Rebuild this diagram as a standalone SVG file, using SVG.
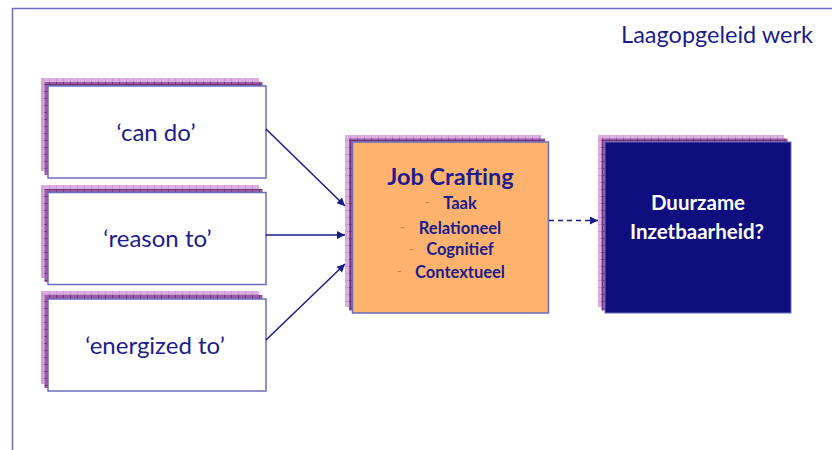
<svg xmlns="http://www.w3.org/2000/svg" width="832" height="450" viewBox="0 0 832 450">
<defs>
<pattern id="pl" width="7" height="7" patternUnits="userSpaceOnUse">
<rect width="7" height="7" fill="#dcaee2"/>
<path d="M0 0.5H7M0.5 0V7" stroke="#cb98d2" stroke-width="1"/>
</pattern>
<pattern id="pd" width="7" height="7" patternUnits="userSpaceOnUse">
<rect width="7" height="7" fill="#9a5aa6"/>
<path d="M0 0.5H7M0.5 0V7" stroke="#74357f" stroke-width="1"/>
</pattern>
<marker id="ah" viewBox="0 0 10 10" refX="10" refY="5" markerWidth="10" markerHeight="8" markerUnits="userSpaceOnUse" orient="auto">
<path d="M0 0L10 5L0 10z" fill="#1a1a85"/>
</marker>
</defs>
<style>
.sl{fill:url(#pl)}
.sd{fill:url(#pd)}
.wb{fill:#ffffff;stroke:#6d6dbd;stroke-width:1.5}
.lbl{font-family:Lato,"Liberation Sans",sans-serif;font-size:24px;fill:#1c1c8c;text-anchor:middle}
.jc{font-family:Lato,"Liberation Sans",sans-serif;font-weight:bold;fill:#1c1c8c;text-anchor:middle}
.sub{font-size:16.5px}
.wt{fill:#ffffff;font-size:20.5px}
.dash{font-family:Lato,"Liberation Sans",sans-serif;font-size:13px;fill:#f2663a}
.conn{stroke:#1a1a85;stroke-width:1.5;fill:none}
</style>
<rect width="832" height="450" fill="#ffffff"/>
<path d="M12.5 450V8.5H832" fill="none" stroke="#6d6dbd" stroke-width="1.5"/>
<text x="813" y="43" font-family="Lato,'Liberation Sans',sans-serif" font-size="23.5" fill="#1c1c8c" text-anchor="end">Laagopgeleid werk</text>

<g id="node-can-do">
<rect class="sl" x="41" y="78" width="218" height="93"/>
<rect class="sd" x="44.5" y="82" width="218" height="93"/>
<rect class="wb" x="48" y="86" width="218" height="92"/>
<text class="lbl" x="156" y="140.5">‘can do’</text>
</g>
<g id="node-reason-to">
<rect class="sl" x="41" y="185" width="218" height="93"/>
<rect class="sd" x="44.5" y="189" width="218" height="93"/>
<rect class="wb" x="48" y="192.5" width="218" height="92"/>
<text class="lbl" x="157.5" y="247">‘reason to’</text>
</g>
<g id="node-energized-to">
<rect class="sl" x="41" y="291" width="218" height="93"/>
<rect class="sd" x="44.5" y="295" width="218" height="93"/>
<rect class="wb" x="48" y="299" width="218" height="92"/>
<text class="lbl" x="155" y="353.5">‘energized to’</text>
</g>

<g id="node-job-crafting">
<rect class="sl" x="345" y="135" width="196" height="172"/>
<rect class="sd" x="349" y="138.5" width="196" height="172"/>
<rect x="352.5" y="142" width="196" height="171" fill="#fdb36e" stroke="#6d6dbd" stroke-width="1.5"/>
<text class="jc" x="450.5" y="184.5" font-size="23.5">Job Crafting</text>
<text class="dash" x="425" y="207">-</text>
<text class="jc sub" x="460" y="208.5">Taak</text>
<text class="dash" x="400" y="232">-</text>
<text class="jc sub" x="460" y="233.5">Relationeel</text>
<text class="dash" x="409" y="253.5">-</text>
<text class="jc sub" x="460" y="255">Cognitief</text>
<text class="dash" x="397" y="276">-</text>
<text class="jc sub" x="460" y="277.5">Contextueel</text>
</g>

<g id="node-duurzame">
<rect class="sl" x="598" y="135" width="186" height="172"/>
<rect class="sd" x="601.5" y="138.5" width="186" height="172"/>
<rect x="605" y="142" width="186" height="171" fill="#0e0e7e" stroke="#6d6dbd" stroke-width="1"/>
<text class="jc wt" x="698" y="210">Duurzame</text>
<text class="jc wt" x="697" y="238.5">Inzetbaarheid?</text>
</g>

<g id="connectors">
<line class="conn" x1="266" y1="129" x2="345" y2="206" marker-end="url(#ah)"/>
<line class="conn" x1="266" y1="235" x2="345" y2="235" marker-end="url(#ah)"/>
<line class="conn" x1="266" y1="340" x2="345" y2="264" marker-end="url(#ah)"/>
<line class="conn" x1="549" y1="220.5" x2="598" y2="220.5" stroke-dasharray="5 4" marker-end="url(#ah)"/>
</g>
</svg>
